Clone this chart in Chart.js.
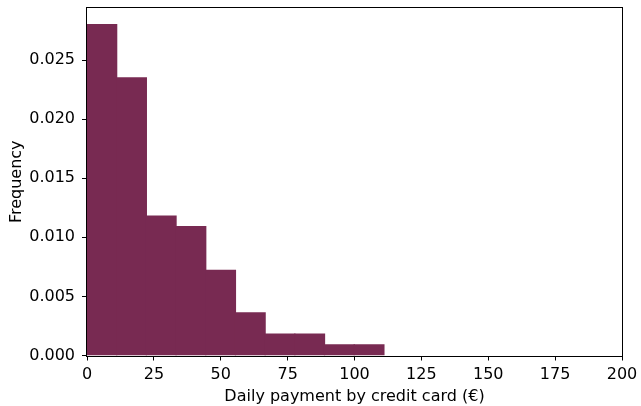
<!DOCTYPE html>
<html>
<head>
<meta charset="utf-8">
<script src="https://cdn.jsdelivr.net/npm/chart.js@4/dist/chart.umd.min.js"></script>
<style>
  html, body { margin: 0; padding: 0; background: #fff; }
  #wrap { width: 641px; height: 406px; }
</style>
</head>
<body>
<div id="wrap"><canvas id="chart"></canvas></div>
<script>
// histogram bins (euros) and density heights
const binEdges = [0, 11.1, 22.2, 33.3, 44.4, 55.5, 66.6, 77.7, 88.8, 99.9, 111.0];
const frequency = [0.0280, 0.0235, 0.0118, 0.0109, 0.0072, 0.0036, 0.0018, 0.0018, 0.0009, 0.0009];
const xTicks = [0, 25, 50, 75, 100, 125, 150, 175, 200];
const yTicks = [0.000, 0.005, 0.010, 0.015, 0.020, 0.025];

const points = frequency.map((f, i) => ({ x: (binEdges[i] + binEdges[i + 1]) / 2, y: f }));

const frame = {
  id: 'frame',
  afterDatasetsDraw(chart) {
    const a = chart.chartArea, c = chart.ctx;
    c.save();
    c.strokeStyle = '#000';
    c.lineWidth = 1;
    c.strokeRect(Math.round(a.left) - 0.5, Math.round(a.top) - 0.5, Math.round(a.right - a.left) + 1, Math.round(a.bottom - a.top) + 1);
    c.restore();
  }
};

const font = { family: 'DejaVu Sans', size: 16 };

new Chart(document.getElementById('chart'), {
  type: 'bar',
  data: {
    datasets: [{
      data: points,
      backgroundColor: '#782a52',
      borderWidth: 0,
      inflateAmount: 0.6,
      barPercentage: 1,
      categoryPercentage: 1
    }]
  },
  options: {
    responsive: true,
    maintainAspectRatio: false,
    animation: false,
    layout: { padding: { top: 8, right: 19, left: 0, bottom: 0 } },
    plugins: { legend: { display: false }, tooltip: { enabled: false } },
    scales: {
      x: {
        type: 'linear',
        offset: false,
        min: 0, max: 200,
        afterFit: s => { s.height = 50.5; s.paddingLeft = 0; s.paddingRight = 0; },
        afterBuildTicks: s => { s.ticks = xTicks.map(v => ({ value: v })); },
        ticks: { color: '#000', font, maxRotation: 0, padding: 5, callback: v => String(v) },
        grid: { offset: false, drawOnChartArea: false, tickLength: 5, tickColor: '#000', color: '#000' },
        border: { display: false },
        title: { display: true, text: 'Daily payment by credit card (€)', color: '#000', font, padding: { top: 1, bottom: 0 } }
      },
      y: {
        min: 0, max: 0.0294,
        afterFit: s => { s.width = 87; s.paddingTop = 0; s.paddingBottom = 0; },
        afterBuildTicks: s => { s.ticks = yTicks.map(v => ({ value: v })); },
        ticks: { color: '#000', font, padding: 7, callback: v => v.toFixed(3) },
        grid: { drawOnChartArea: false, tickLength: 5, tickColor: '#000', color: '#000' },
        border: { display: false },
        title: { display: true, text: 'Frequency', color: '#000', font, padding: { top: 7, bottom: 2 } }
      }
    }
  },
  plugins: [frame]
});
</script>
</body>
</html>
